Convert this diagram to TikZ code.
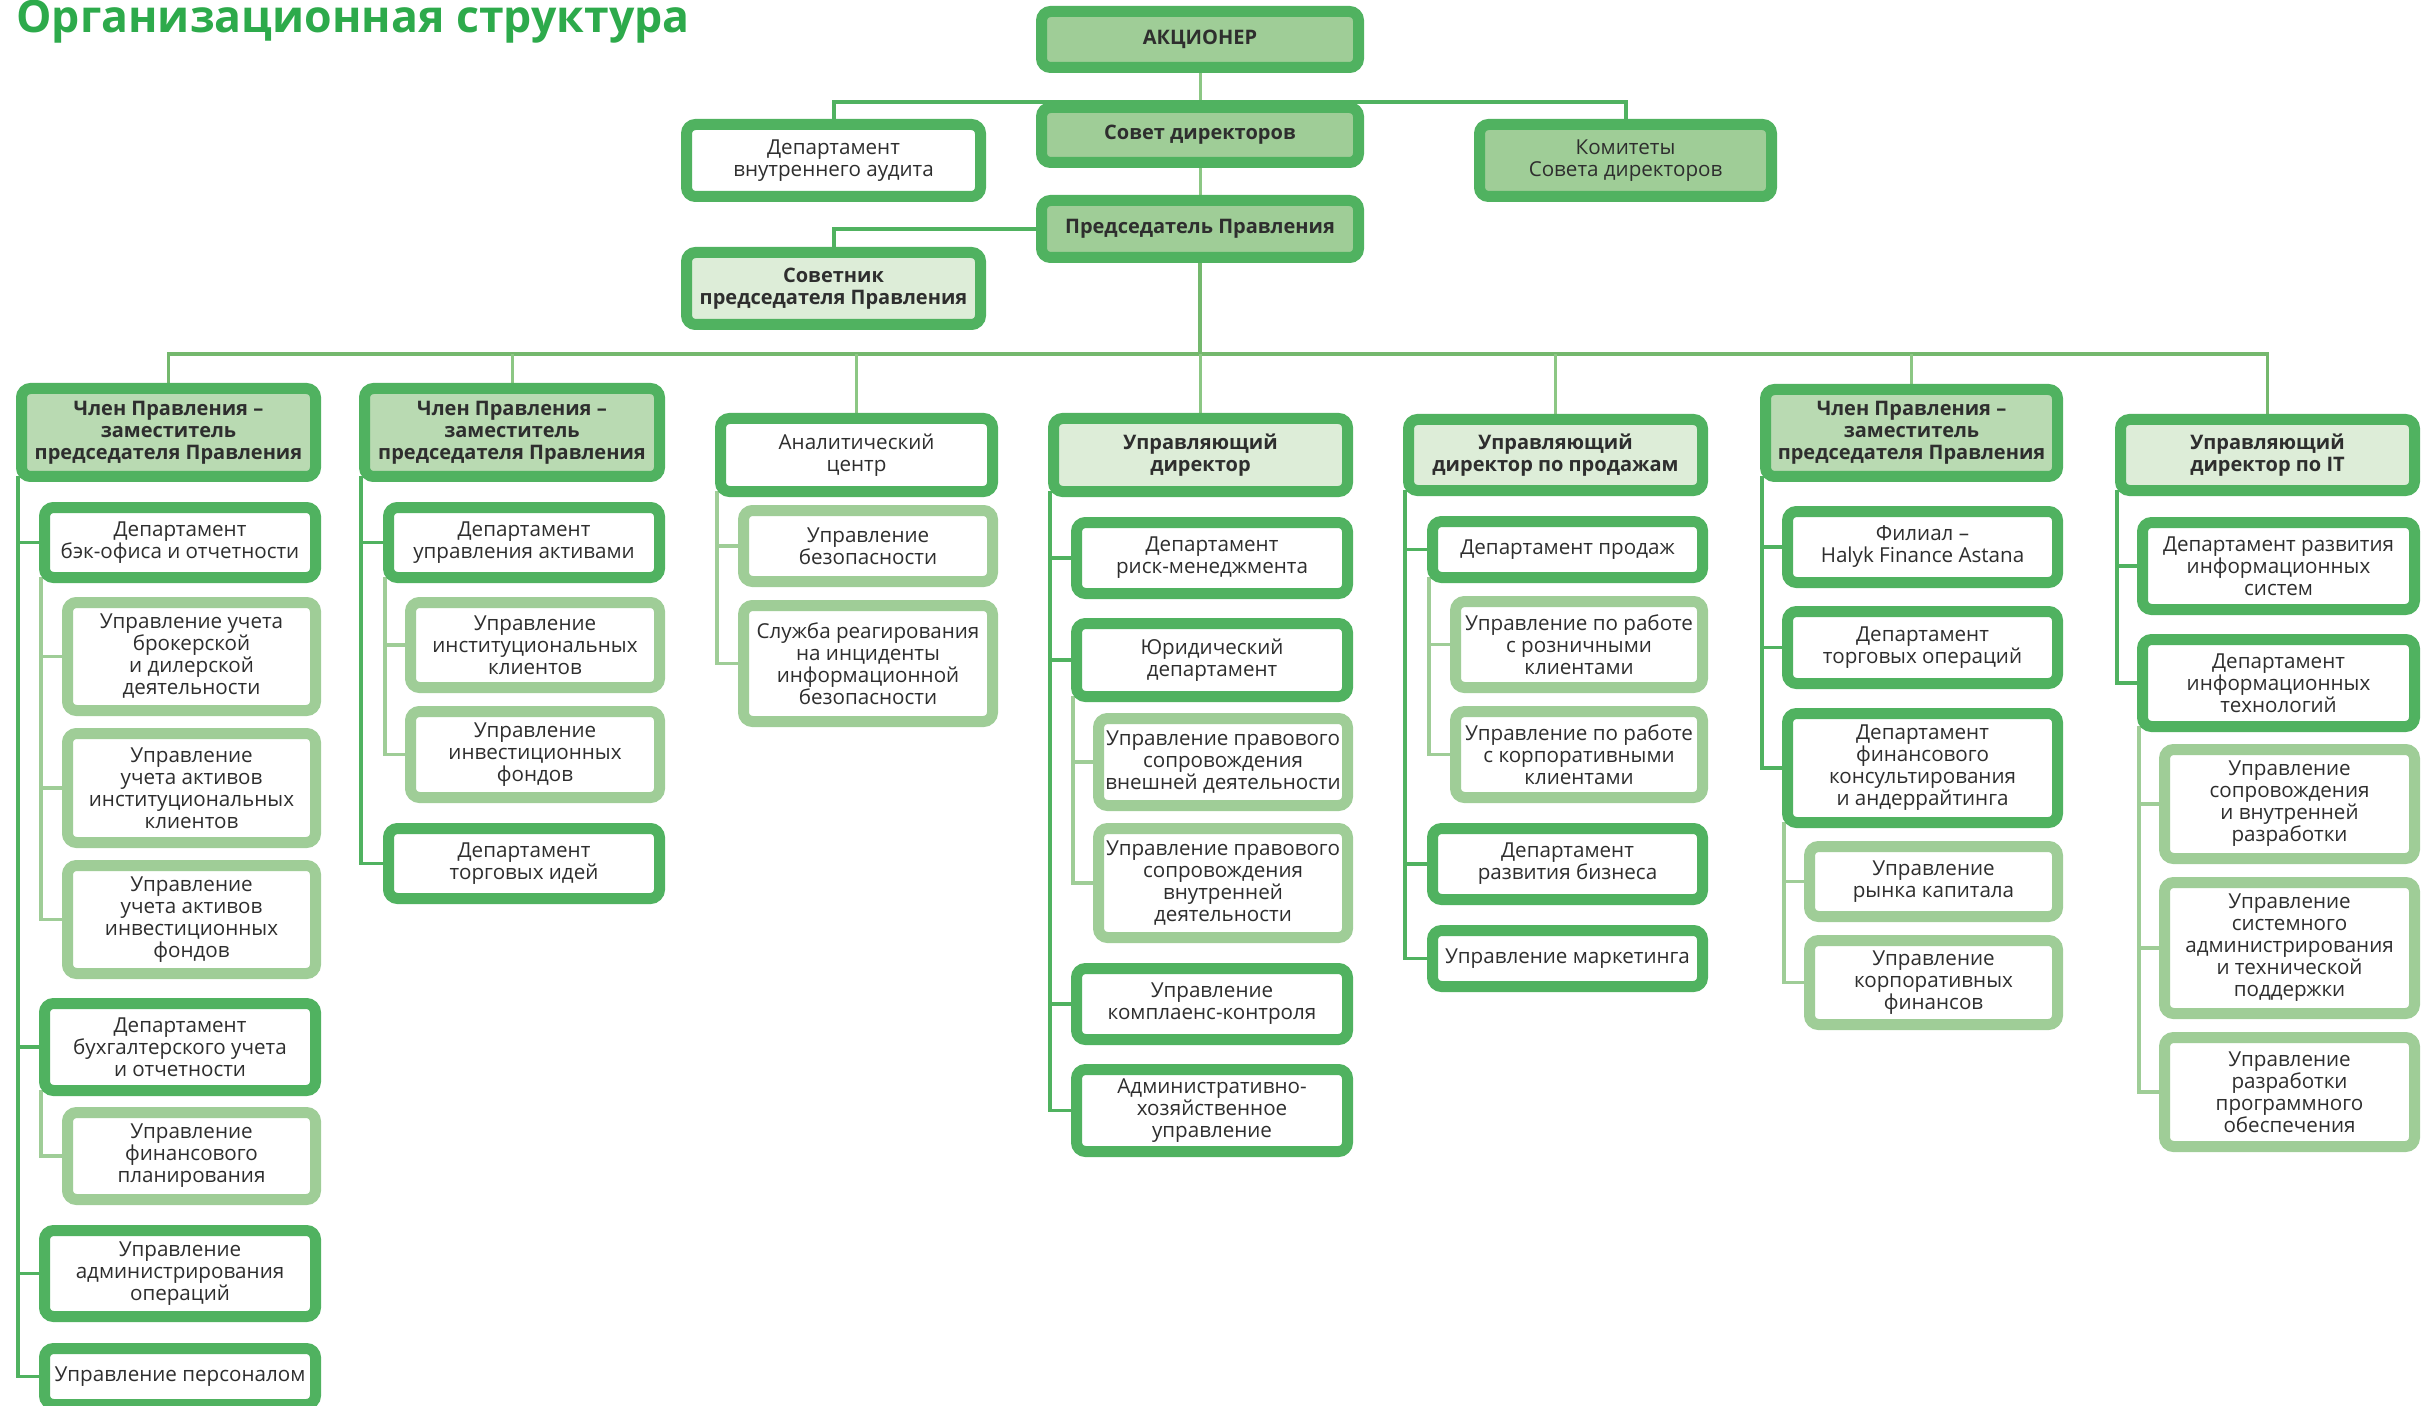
\documentclass[tikz,border=0pt]{standalone}
\usepackage{fontspec}
\setmainfont{Open Sans}
\usetikzlibrary{backgrounds}
\definecolor{dk}{HTML}{50B260}
\definecolor{lt}{HTML}{9FCD97}
\definecolor{hd}{HTML}{B9DAB2}
\definecolor{pale}{HTML}{DDEDD8}
\definecolor{busgreen}{HTML}{74B86D}
\definecolor{tickgreen}{HTML}{8CC784}
\definecolor{titlegreen}{HTML}{2DAA4B}
\definecolor{ink}{HTML}{2E2E2E}

\begin{document}
\begin{tikzpicture}[x=0.5pt, y=-0.5pt,
  orgbox/.style={draw, rounded corners=\rc, line width=\bw, align=center, inner sep=2pt, text=ink, font=\fontsize{10.3}{11}\selectfont},
  bold/.style={font=\bfseries\fontsize{10}{11}\selectfont},
  box size/.style 2 args={minimum width={(#1-11)*0.5pt}, minimum height={(#2-11)*0.5pt}},
  dept box/.style={orgbox, draw=dk, fill=white},
  unit box/.style={orgbox, draw=lt, fill=white},
  top box/.style={orgbox, draw=dk, fill=lt, bold},
  head box/.style={orgbox, draw=dk, fill=hd, bold},
  mgr box/.style={orgbox, draw=dk, fill=pale, bold},
  main link/.style={draw=dk, line width=2pt},
  thin link/.style={draw=tickgreen, line width=1.5pt},
  bus link/.style={draw=busgreen, line width=1.75pt},
  dark link/.style={draw=dk, line width=1.75pt},
  light link/.style={draw=lt, line width=1.75pt}]
\def\bw{5.5pt}
\def\rc{4.5pt}
\useasboundingbox (0,0) rectangle (2428,1406);

\node[anchor=base west, text=titlegreen, font=\bfseries\fontsize{22.3}{26}\selectfont, inner sep=0pt] (title) at (16,33) {Организационная структура};

% top of the structure
\node[top box, box size={328}{67}] (sh) at (1200,39.5) {АКЦИОНЕР};
\node[top box, box size={328}{66}] (board) at (1200,135) {Совет директоров};
\node[top box, box size={328}{68}] (chair) at (1200,229) {Председатель Правления};
\node[dept box, box size={305}{83}] (audit) at (833.5,160.5) {Департамент\\внутреннего аудита};
\node[orgbox, draw=dk, fill=lt, box size={303}{83}] (kom) at (1625.5,160.5) {Комитеты\\Совета директоров};
\node[mgr box, box size={305}{83}] (adv) at (833.5,288.5) {Советник\\председателя Правления};

% column heads
\node[head box, box size={305}{99}] (hA) at (168.5,432.5) {Член Правления –\\заместитель\\председателя Правления};
\node[head box, box size={306}{99}] (hB) at (512,432.5) {Член Правления –\\заместитель\\председателя Правления};
\node[dept box, box size={283}{84}] (hC) at (856.5,455) {Аналитический\\центр};
\node[mgr box, box size={305}{84}] (hD) at (1200.5,455) {Управляющий\\директор};
\node[mgr box, box size={305}{82}] (hE) at (1555.5,455) {Управляющий\\директор по продажам};
\node[head box, box size={303}{98}] (hF) at (1911.5,433) {Член Правления –\\заместитель\\председателя Правления};
\node[mgr box, box size={305}{82}] (hG) at (2267.5,455) {Управляющий\\директор по IT};

% column A
\node[dept box, box size={282}{81}] (a1) at (180,542.5) {Департамент\\бэк-офиса и отчетности};
\node[unit box, box size={259}{119}] (a11) at (191.5,656.5) {Управление учета\\брокерской\\и дилерской\\деятельности};
\node[unit box, box size={259}{120}] (a12) at (191.5,788) {Управление\\учета активов\\институциональных\\клиентов};
\node[unit box, box size={259}{119}] (a13) at (191.5,919.5) {Управление\\учета активов\\инвестиционных\\фондов};
\node[dept box, box size={282}{98}] (a2) at (180,1047) {Департамент\\бухгалтерского учета\\и отчетности};
\node[unit box, box size={259}{98}] (a21) at (191.5,1156) {Управление\\финансового\\планирования};
\node[dept box, box size={282}{97}] (a3) at (180,1273.5) {Управление\\администрирования\\операций};
\node[dept box, box size={282}{67}] (a4) at (180,1376.5) {Управление персоналом};

% column B
\node[dept box, box size={282}{81}] (b1) at (524,542.5) {Департамент\\управления активами};
\node[unit box, box size={260}{96}] (b11) at (535,645) {Управление\\институциональных\\клиентов};
\node[unit box, box size={260}{97}] (b12) at (535,754.5) {Управление\\инвестиционных\\фондов};
\node[dept box, box size={282}{81}] (b2) at (524,863.5) {Департамент\\торговых идей};

% column C
\node[unit box, box size={260}{82}] (c1) at (868,546) {Управление\\безопасности};
\node[unit box, box size={260}{127}] (c2) at (868,663.5) {Служба реагирования\\на инциденты\\информационной\\безопасности};

% column D
\node[dept box, box size={282}{82}] (d1) at (1212,558) {Департамент\\риск-менеджмента};
\node[dept box, box size={282}{84}] (d2) at (1212,660) {Юридический\\департамент};
\node[unit box, box size={260}{98}] (d21) at (1223,762) {Управление правового\\сопровождения\\внешней деятельности};
\node[unit box, box size={260}{120}] (d22) at (1223,883) {Управление правового\\сопровождения\\внутренней\\деятельности};
\node[dept box, box size={282}{82}] (d3) at (1212,1004) {Управление\\комплаенс-контроля};
\node[dept box, box size={282}{93}] (d4) at (1212,1110.5) {Административно-\\хозяйственное\\управление};

% column E
\node[dept box, box size={281}{67}] (e1) at (1567.5,549.5) {Департамент продаж};
\node[unit box, box size={258}{97}] (e11) at (1579,644.5) {Управление по работе\\с розничными\\клиентами};
\node[unit box, box size={258}{97}] (e12) at (1579,754.5) {Управление по работе\\с корпоративными\\клиентами};
\node[dept box, box size={281}{82}] (e2) at (1567.5,864) {Департамент\\развития бизнеса};
\node[dept box, box size={281}{67}] (e3) at (1567.5,958.5) {Управление маркетинга};

% column F
\node[dept box, box size={281}{82}] (f1) at (1922.5,547) {Филиал –\\Halyk Finance Astana};
\node[dept box, box size={281}{83}] (f2) at (1922.5,647.5) {Департамент\\торговых операций};
\node[dept box, box size={281}{120}] (f3) at (1922.5,768) {Департамент\\финансового\\консультирования\\и андеррайтинга};
\node[unit box, box size={259}{81}] (f31) at (1933.5,881.5) {Управление\\рынка капитала};
\node[unit box, box size={259}{95}] (f32) at (1933.5,982.5) {Управление\\корпоративных\\финансов};

% column G
\node[dept box, box size={283}{98}] (g1) at (2278.5,566) {Департамент развития\\информационных\\систем};
\node[dept box, box size={283}{98}] (g2) at (2278.5,683) {Департамент\\информационных\\технологий};
\node[unit box, box size={261}{120}] (g21) at (2289.5,804) {Управление\\сопровождения\\и внутренней\\разработки};
\node[unit box, box size={261}{142}] (g22) at (2289.5,948) {Управление\\системного\\администрирования\\и технической\\поддержки};
\node[unit box, box size={261}{120}] (g23) at (2289.5,1092) {Управление\\разработки\\программного\\обеспечения};

\begin{scope}[on background layer]
\coordinate (top bar) at (1200,102);
\coordinate (bus) at (1200,354);
\draw[thin link] (sh) -- (board);
\draw[thin link] (board) -- (chair);
\draw[main link] (audit.north) |- (top bar) -| (kom.north);
\draw[main link] (chair.west) -| (adv.north);
\draw[bus link] (chair.south) -- (bus);
\draw[bus link] (hA.north) |- (bus) -| (hG.north);
\draw[thin link] (hB.north) -- (hB.north |- bus);
\draw[thin link] (hC.north) -- (hC.north |- bus);
\draw[thin link] (hD.north) -- (hD.north |- bus);
\draw[thin link] (hE.north) -- (hE.north |- bus);
\draw[thin link] (hF.north) -- (hF.north |- bus);
% trunks
\draw[dark link] ([shift={(1pt,3pt)}]hA.south west) |- (a1);
\draw[dark link] ([shift={(1pt,3pt)}]hA.south west) |- (a2);
\draw[dark link] ([shift={(1pt,3pt)}]hA.south west) |- (a3);
\draw[dark link] ([shift={(1pt,3pt)}]hA.south west) |- (a4);
\draw[light link] ([shift={(1pt,3pt)}]a1.south west) |- (a11);
\draw[light link] ([shift={(1pt,3pt)}]a1.south west) |- (a12);
\draw[light link] ([shift={(1pt,3pt)}]a1.south west) |- (a13);
\draw[light link] ([shift={(1pt,3pt)}]a2.south west) |- (a21);
\draw[dark link] ([shift={(1pt,3pt)}]hB.south west) |- (b1);
\draw[dark link] ([shift={(1pt,3pt)}]hB.south west) |- (b2);
\draw[light link] ([shift={(1pt,3pt)}]b1.south west) |- (b11);
\draw[light link] ([shift={(1pt,3pt)}]b1.south west) |- (b12);
\draw[light link] ([shift={(1pt,3pt)}]hC.south west) |- (c1);
\draw[light link] ([shift={(1pt,3pt)}]hC.south west) |- (c2);
\draw[dark link] ([shift={(1pt,3pt)}]hD.south west) |- (d1);
\draw[dark link] ([shift={(1pt,3pt)}]hD.south west) |- (d2);
\draw[dark link] ([shift={(1pt,3pt)}]hD.south west) |- (d3);
\draw[dark link] ([shift={(1pt,3pt)}]hD.south west) |- (d4);
\draw[light link] ([shift={(1pt,3pt)}]d2.south west) |- (d21);
\draw[light link] ([shift={(1pt,3pt)}]d2.south west) |- (d22);
\draw[dark link] ([shift={(1pt,3pt)}]hE.south west) |- (e1);
\draw[dark link] ([shift={(1pt,3pt)}]hE.south west) |- (e2);
\draw[dark link] ([shift={(1pt,3pt)}]hE.south west) |- (e3);
\draw[light link] ([shift={(1pt,3pt)}]e1.south west) |- (e11);
\draw[light link] ([shift={(1pt,3pt)}]e1.south west) |- (e12);
\draw[dark link] ([shift={(1pt,3pt)}]hF.south west) |- (f1);
\draw[dark link] ([shift={(1pt,3pt)}]hF.south west) |- (f2);
\draw[dark link] ([shift={(1pt,3pt)}]hF.south west) |- (f3);
\draw[light link] ([shift={(1pt,3pt)}]f3.south west) |- (f31);
\draw[light link] ([shift={(1pt,3pt)}]f3.south west) |- (f32);
\draw[dark link] ([shift={(1pt,3pt)}]hG.south west) |- (g1);
\draw[dark link] ([shift={(1pt,3pt)}]hG.south west) |- (g2);
\draw[light link] ([shift={(1pt,3pt)}]g2.south west) |- (g21);
\draw[light link] ([shift={(1pt,3pt)}]g2.south west) |- (g22);
\draw[light link] ([shift={(1pt,3pt)}]g2.south west) |- (g23);
\end{scope}
\end{tikzpicture}
\end{document}
